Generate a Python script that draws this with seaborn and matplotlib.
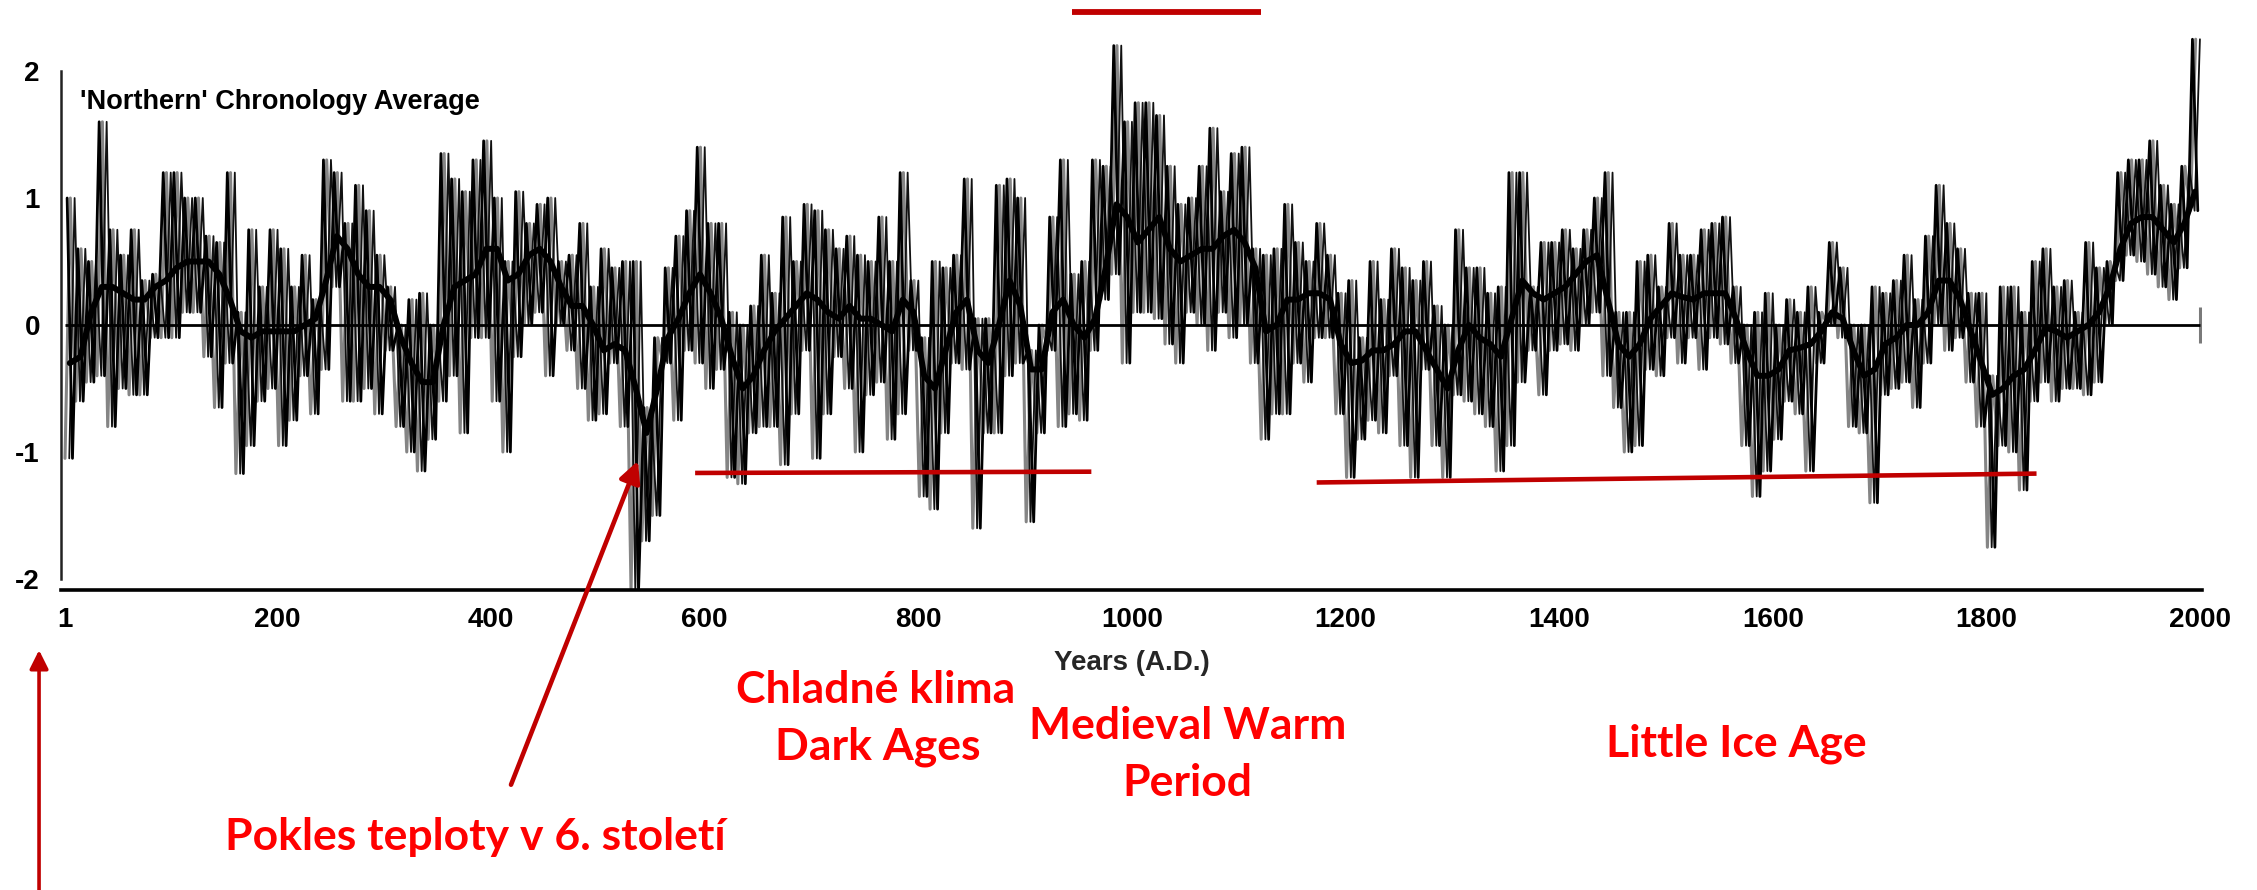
import numpy as np
import pandas as pd
import matplotlib
matplotlib.use("Agg")
import matplotlib.pyplot as plt
import seaborn as sns

# ---------------- data ----------------
# 10-year bins starting at these years
bin_start = list(range(1, 2001, 10))

# smoothed (thick) curve, value at bin centres
smooth = [
    -0.30, -0.25, 0.10, 0.30, 0.30, 0.25, 0.20, 0.20, 0.30, 0.35,
    0.45, 0.50, 0.50, 0.50, 0.40, 0.20, -0.05, -0.10, -0.05, -0.05,
    -0.05, -0.05, 0.00, 0.05, 0.35, 0.70, 0.60, 0.40, 0.30, 0.30,
    0.20, -0.10, -0.30, -0.45, -0.45, 0.00, 0.30, 0.35, 0.40, 0.60,
    0.60, 0.35, 0.40, 0.55, 0.60, 0.50, 0.30, 0.15, 0.15, 0.00,
    -0.20, -0.15, -0.20, -0.50, -0.85, -0.50, -0.10, 0.05, 0.25, 0.40,
    0.25, 0.05, -0.25, -0.50, -0.40, -0.20, -0.05, 0.05, 0.15, 0.25,
    0.20, 0.10, 0.05, 0.15, 0.05, 0.05, 0.00, -0.05, 0.20, 0.10,
    -0.40, -0.50, -0.20, 0.10, 0.20, -0.20, -0.30, 0.00, 0.35, 0.15,
    -0.35, -0.35, 0.10, 0.20, 0.00, -0.10, 0.05, 0.45, 0.95, 0.85,
    0.65, 0.75, 0.85, 0.60, 0.50, 0.55, 0.60, 0.60, 0.70, 0.75,
    0.65, 0.45, -0.05, 0.00, 0.20, 0.20, 0.25, 0.25, 0.20, -0.15,
    -0.30, -0.28, -0.20, -0.20, -0.15, -0.05, -0.05, -0.20, -0.35, -0.50,
    -0.20, 0.00, -0.10, -0.15, -0.25, 0.05, 0.35, 0.25, 0.20, 0.25,
    0.30, 0.40, 0.50, 0.55, 0.20, -0.15, -0.25, -0.15, 0.05, 0.15,
    0.25, 0.22, 0.20, 0.25, 0.25, 0.25, 0.05, -0.20, -0.40, -0.40,
    -0.35, -0.20, -0.18, -0.15, -0.05, 0.10, 0.05, -0.20, -0.40, -0.35,
    -0.15, -0.10, 0.00, 0.00, 0.10, 0.35, 0.35, 0.20, -0.05, -0.30,
    -0.55, -0.50, -0.40, -0.35, -0.20, -0.02, -0.05, -0.10, -0.05, 0.00,
    0.10, 0.30, 0.60, 0.80, 0.85, 0.85, 0.75, 0.65, 0.80, 1.05,
]

# highest annual value in each bin
raw_hi = [
    1.00, 0.60, 0.50, 1.60, 0.75, 0.55, 0.75, 0.35, 0.40, 1.20,
    1.20, 1.00, 1.00, 0.70, 0.65, 1.20, 0.10, 0.75, 0.30, 0.75,
    0.60, 0.30, 0.55, 0.20, 1.30, 1.20, 0.80, 1.10, 0.90, 0.55,
    0.30, 0.00, 0.20, 0.25, 0.00, 1.35, 1.15, 1.05, 1.30, 1.45,
    1.00, 0.50, 1.05, 0.80, 0.95, 1.00, 0.50, 0.55, 0.80, 0.30,
    0.60, 0.45, 0.50, 0.50, -0.65, -0.10, 0.45, 0.70, 0.90, 1.40,
    0.80, 0.80, 0.10, 0.00, 0.15, 0.55, 0.25, 0.85, 0.50, 0.95,
    0.90, 0.75, 0.60, 0.70, 0.55, 0.50, 0.85, 0.50, 1.20, 0.35,
    -0.10, 0.50, 0.45, 0.55, 1.15, 0.05, 0.05, 1.10, 1.15, 1.00,
    -0.20, 0.00, 0.85, 1.30, 0.40, 0.50, 1.30, 1.25, 2.20, 1.60,
    1.75, 1.75, 1.65, 1.25, 0.95, 1.00, 1.25, 1.55, 1.05, 1.35,
    1.40, 0.60, 0.55, 0.60, 0.95, 0.65, 0.50, 0.80, 0.55, 0.25,
    0.35, -0.10, 0.50, 0.20, 0.60, 0.45, 0.35, 0.50, 0.15, 0.00,
    0.75, 0.45, 0.45, 0.25, 0.30, 1.20, 1.20, 0.30, 0.65, 0.65,
    0.75, 0.60, 0.75, 1.00, 1.20, 0.10, 0.10, 0.50, 0.55, 0.30,
    0.80, 0.55, 0.55, 0.75, 0.80, 0.85, 0.30, 0.00, 0.10, 0.25,
    0.00, 0.20, 0.10, 0.30, 0.10, 0.65, 0.45, 0.00, 0.00, 0.30,
    0.25, 0.35, 0.55, 0.20, 0.70, 1.10, 0.80, 0.60, 0.25, 0.25,
    -0.40, 0.30, 0.30, 0.10, 0.50, 0.60, 0.30, 0.35, 0.10, 0.65,
    0.45, 0.50, 1.20, 1.30, 1.30, 1.45, 1.10, 0.95, 1.25, 2.25,
]

# lowest annual value in each bin
raw_lo = [
    -1.05, -0.60, -0.45, -0.40, -0.80, -0.50, -0.55, -0.55, -0.10, -0.10,
    -0.10, 0.10, 0.10, -0.25, -0.65, -0.30, -1.17, -0.95, -0.60, -0.50,
    -0.95, -0.75, -0.40, -0.70, -0.35, 0.30, -0.60, -0.60, -0.50, -0.70,
    -0.20, -0.80, -1.00, -1.15, -0.90, -0.60, -0.40, -0.85, -0.10, -0.10,
    -0.60, -1.00, -0.25, 0.00, 0.10, -0.40, 0.00, -0.20, -0.50, -0.75,
    -0.70, -0.30, -0.80, -2.10, -1.70, -1.50, -0.30, -0.75, -0.20, -0.30,
    -0.50, -0.35, -1.20, -1.25, -0.85, -0.80, -0.80, -1.10, -0.70, -0.20,
    -1.05, -0.70, -0.25, -0.50, -1.00, -0.55, -0.45, -0.90, -0.70, -0.20,
    -1.35, -1.45, -0.85, -0.30, -0.35, -1.60, -0.85, -0.85, -0.40, -0.30,
    -1.55, -0.85, -0.20, -0.80, -0.70, -0.75, -0.20, 0.20, 0.40, -0.30,
    0.10, 0.10, 0.05, -0.15, -0.30, 0.10, 0.00, -0.20, 0.10, -0.10,
    0.00, -0.30, -0.90, -0.70, -0.70, -0.30, -0.45, -0.10, -0.10, -0.70,
    -1.20, -0.90, -0.75, -0.85, -0.40, -0.95, -1.20, -0.35, -0.95, -1.20,
    -0.55, -0.60, -0.70, -0.80, -1.15, -0.95, -0.45, -0.20, -0.55, -0.20,
    -0.15, -0.20, 0.00, 0.10, -0.40, -0.65, -1.00, -0.95, -0.35, -0.40,
    -0.10, -0.30, -0.10, -0.35, -0.10, -0.15, -0.30, -0.95, -1.35, -1.15,
    -0.90, -0.60, -0.70, -1.15, -0.30, 0.00, -0.10, -0.80, -0.85, -1.40,
    -0.55, -0.50, -0.45, -0.65, -0.30, 0.00, -0.20, -0.10, -0.45, -0.80,
    -1.75, -0.95, -1.00, -1.30, -0.60, -0.45, -0.60, -0.50, -0.50, -0.55,
    -0.45, 0.00, 0.35, 0.55, 0.50, 0.40, 0.30, 0.20, 0.45, 0.90,
]

x_ticks = [1, 200, 400, 600, 800, 1000, 1200, 1400, 1600, 1800, 2000]
x_tick_labels = ["1", "200", "400", "600", "800", "1000", "1200", "1400",
                 "1600", "1800", "2000"]
x_minor = [100, 300, 500, 700, 900, 1100, 1300, 1500, 1700, 1900]
y_ticks = [-2, -1, 0, 1, 2]
y_tick_labels = ["-2", "-1", "0", "1", "2"]

title_text = "'Northern' Chronology Average"
x_label = "Years (A.D.)"

# period bars (year from, year to, value from, value to)
dark_ages_bar = (591, 962, -1.165, -1.155)
lia_bar = (1173, 1847, -1.24, -1.17)
mwp_bar = (944, 1121, 2.465, 2.465)

# ---------------- figure ----------------
sns.set_theme(style="white")
plt.rcParams['font.family'] = ['Liberation Sans', 'DejaVu Sans']

W, H = 2257, 890
fig = plt.figure(figsize=(W / 100, H / 100), dpi=100)

# pixel mapping: year 1 -> 65 px, 1.068 px/yr ; value 0 -> 325 px, 127 px/unit
x0, x1 = -3, 2002
y0, y1 = -2.09, 2.6
px_l = 65 + (x0 - 1) * 1.068
px_r = 65 + (x1 - 1) * 1.068
py_b = 325 - y0 * 127
py_t = 325 - y1 * 127
ax = fig.add_axes([px_l / W, 1 - py_b / H, (px_r - px_l) / W, (py_b - py_t) / H])
ax.set_xlim(x0, x1)
ax.set_ylim(y0, y1)

# annual series drawn as zig-zags between bin extremes
rows_black, rows_black2, rows_gray = [], [], []
for b, h, l in zip(bin_start, raw_hi, raw_lo):
    rows_black.append((b + 2, h))
    rows_black.append((b + 7, l))
    rows_black2.append((b + 4, l))
    rows_black2.append((b + 9, h))
    rows_gray.append((b + 0, l))
    rows_gray.append((b + 5, h))
zz_black = pd.DataFrame(rows_black, columns=["year", "value"])
zz_black2 = pd.DataFrame(rows_black2, columns=["year", "value"])
zz_gray = pd.DataFrame(rows_gray, columns=["year", "value"])

sns.lineplot(data=zz_gray, x="year", y="value", sort=False, estimator=None,
             color="#858585", lw=2.2, ax=ax)
sns.lineplot(data=zz_black2, x="year", y="value", sort=False, estimator=None,
             color="#111111", lw=1.3, ax=ax)
sns.lineplot(data=zz_black, x="year", y="value", sort=False, estimator=None,
             color="black", lw=2.0, ax=ax)

sm = pd.DataFrame({"year": [b + 4.5 for b in bin_start], "value": smooth})
sns.lineplot(data=sm, x="year", y="value", sort=False, estimator=None,
             color="black", lw=4.3, ax=ax)

# zero line
ax.hlines(0, 1, 2000, color="black", lw=2.0, zorder=5)
ax.vlines(2000, -0.14, 0.14, color="#7a7a7a", lw=2.2)

# spines & ticks
for s in ["top", "right"]:
    ax.spines[s].set_visible(False)
ax.spines["left"].set_bounds(-2, 2)
ax.spines["left"].set_color("#222222")
ax.spines["left"].set_linewidth(1.8)
ax.spines["bottom"].set_color("black")
ax.spines["bottom"].set_linewidth(2.6)

ax.set_xticks(x_ticks)
ax.set_xticklabels(x_tick_labels)
ax.set_xticks(x_minor, minor=True)
ax.tick_params(axis="x", which="both", direction="in", length=5, width=1.3,
               colors="black", pad=12, labelsize=20)
ax.set_yticks(y_ticks)
ax.set_yticklabels(y_tick_labels)
ax.tick_params(axis="y", direction="out", length=9, width=1.5,
               colors="black", pad=6, labelsize=20)
for lab in ax.get_xticklabels() + ax.get_yticklabels():
    lab.set_fontweight("bold")
ax.set_xlabel(x_label, fontsize=20, labelpad=12, fontweight="bold")
ax.set_ylabel("")

ax.text(15, 1.70, title_text, fontsize=19.5, ha="left", va="baseline",
        color="black", fontweight="bold")

# ---------------- red annotations ----------------
dark_red = "#C00000"
for (xa, xb, ya, yb), lw in [(dark_ages_bar, 3.3), (lia_bar, 3.3), (mwp_bar, 4.2)]:
    ax.plot([xa, xb], [ya, yb], color=dark_red, lw=lw, solid_capstyle="butt",
            clip_on=False, zorder=10)

ax.annotate("", xy=(537.5, -1.07), xytext=(418.6, -3.62),
            arrowprops=dict(arrowstyle="-|>", color=dark_red, lw=3.3,
                            mutation_scale=32, shrinkA=0, shrinkB=0),
            annotation_clip=False, zorder=10)
ax.annotate("", xy=(-23.3, -2.56), xytext=(-23.3, -4.7),
            arrowprops=dict(arrowstyle="-|>", color=dark_red, lw=2.6,
                            mutation_scale=28, shrinkA=0, shrinkB=0),
            annotation_clip=False, zorder=10)

red = "#FF0000"
rfont = dict(family=["Lato", "DejaVu Sans"], weight="bold", color=red,
             fontsize=32, ha="center", va="baseline", clip_on=False)
ax.text(760, -2.98, "Chladné klima", **rfont)
ax.text(762, -3.42, "Dark Ages", **rfont)
ax.text(1052, -3.26, "Medieval Warm", **rfont)
ax.text(1052, -3.71, "Period", **rfont)
ax.text(1566, -3.40, "Little Ice Age", **rfont)
ax.text(385, -4.13, "Pokles teploty v 6. století", **rfont)

fig.savefig("out.png", dpi=100, facecolor="white")
